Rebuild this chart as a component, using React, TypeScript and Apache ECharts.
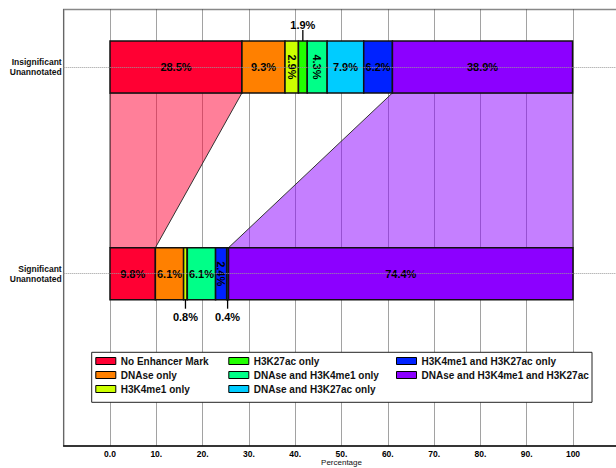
import React, { useEffect, useRef } from "react";
import * as echarts from "echarts";

// ---- data ----
const categories = ["Significant\nUnannotated", "Insignificant\nUnannotated"];
const marks = [
  "No Enhancer Mark",
  "DNAse only",
  "H3K4me1 only",
  "H3K27ac only",
  "DNAse and H3K4me1 only",
  "DNAse and H3K27ac only",
  "H3K4me1 and H3K27ac only",
  "DNAse and H3K4me1 and H3K27ac",
];
const significantValues = [9.8, 6.1, 0.8, 0, 6.1, 0.4, 2.4, 74.4];
const insignificantValues = [28.5, 9.3, 2.9, 1.9, 4.3, 7.9, 6.2, 38.9];
// stacking order of segments (as drawn) for each bar
const significantOrder = [0, 1, 2, 3, 4, 6, 5, 7];
const insignificantOrder = [0, 1, 2, 3, 4, 5, 6, 7];
const tickLabels = ["0.0", "10.", "20.", "30.", "40.", "50.", "60.", "70.", "80.", "90.", "100"];
const connectedMarks = [0, 7];

// ---- styling / layout ----
const colors = ["#FF0033", "#FF8000", "#CCFF00", "#22FF00", "#00FF88", "#00CCFF", "#0022FF", "#8C00FF"];
const ROW_Y = [15, 33];
const BAR_H = 52;
const FONT = '"Liberation Sans", Arial, sans-serif';

function stackSegments(values: number[], order: number[]) {
  const out: number[][] = new Array(values.length);
  let acc = 0;
  for (const idx of order) {
    out[idx] = [acc, acc + values[idx]];
    acc += values[idx];
  }
  return out;
}

const rows = [
  { values: significantValues, segs: stackSegments(significantValues, significantOrder) },
  { values: insignificantValues, segs: stackSegments(insignificantValues, insignificantOrder) },
];

function hexToRgba(hex: string, a: number) {
  const n = parseInt(hex.slice(1), 16);
  return `rgba(${(n >> 16) & 255},${(n >> 8) & 255},${n & 255},${a})`;
}

export default function App() {
  const ref = useRef<HTMLDivElement>(null);
  useEffect(() => {
    document.body.style.margin = "0";
    const chart = echarts.init(ref.current!, null, { renderer: "svg" });

    const barSeries = marks.map((name, i) => ({
      type: "custom",
      name,
      z: 3,
      itemStyle: { color: colors[i] },
      encode: { x: [0, 1], y: 2 },
      data: rows.map((r, ri) => [r.segs[i][0], r.segs[i][1], ri, r.values[i]]),
      renderItem: (params: any, api: any) => {
        const s = api.value(0);
        const e = api.value(1);
        const ri = api.value(2);
        const v = api.value(3);
        const yv = ROW_Y[ri];
        const p0 = api.coord([s, yv]);
        const p1 = api.coord([e, yv]);
        const top = p0[1] - BAR_H / 2;
        const children: any[] = [
          {
            type: "rect",
            shape: { x: p0[0], y: top, width: p1[0] - p0[0], height: BAR_H },
            style: { fill: colors[i], stroke: "#111", lineWidth: 1.5 },
          },
        ];
        const text = v.toFixed(1) + "%";
        const cx = (p0[0] + p1[0]) / 2;
        const ts = { text, fontSize: 11, fontWeight: "bold", fontFamily: FONT, fill: "#000", align: "center", verticalAlign: "middle" };
        if (v >= 5) {
          children.push({ type: "text", x: cx, y: p0[1], style: ts });
        } else if (v >= 2) {
          children.push({ type: "text", x: cx, y: p0[1], rotation: -Math.PI / 2, style: ts });
        } else if (v > 0) {
          if (ri === 1) {
            children.push({ type: "line", shape: { x1: cx, y1: top, x2: cx, y2: top - 11 }, style: { stroke: "#000", lineWidth: 1.3 } });
            children.push({ type: "text", x: cx, y: top - 16, style: ts });
          } else {
            const b = top + BAR_H;
            children.push({ type: "line", shape: { x1: cx, y1: b, x2: cx, y2: b + 9 }, style: { stroke: "#000", lineWidth: 1.3 } });
            children.push({ type: "text", x: cx, y: b + 17, style: ts });
          }
        }
        return { type: "group", children };
      },
    }));

    const connectorSeries = {
      type: "custom",
      name: "connectors",
      z: 1,
      silent: true,
      encode: { x: [0, 1], y: 4 },
      data: connectedMarks.map((m) => [
        rows[1].segs[m][0],
        rows[1].segs[m][1],
        rows[0].segs[m][0],
        rows[0].segs[m][1],
        m,
      ]),
      renderItem: (params: any, api: any) => {
        const m = api.value(4);
        const yt = api.coord([0, ROW_Y[1]])[1] + BAR_H / 2;
        const yb = api.coord([0, ROW_Y[0]])[1] - BAR_H / 2;
        const x = (v: number) => api.coord([v, ROW_Y[0]])[0];
        return {
          type: "polygon",
          shape: {
            points: [
              [x(api.value(0)), yt],
              [x(api.value(1)), yt],
              [x(api.value(3)), yb],
              [x(api.value(2)), yb],
            ],
          },
          style: { fill: hexToRgba(colors[m], 0.5), stroke: "#333", lineWidth: 1 },
        };
      },
      markLine: {
        silent: true,
        symbol: "none",
        label: { show: false },
        lineStyle: { type: "dotted", color: "#999", width: 1 },
        data: ROW_Y.map((y) => ({ yAxis: y })),
      },
    };

    const legendCols = [marks.slice(0, 3), marks.slice(3, 6), marks.slice(6)];
    const legendLefts = [95.3, 228.3, 396];

    chart.setOption({
      animation: false,
      grid: {
        left: 63.7,
        top: 9.5,
        width: 555.6,
        bottom: 22,
        show: true,
        borderColor: "#888",
        borderWidth: 1.5,
        containLabel: false,
        outerBoundsMode: "none",
      },
      xAxis: {
        type: "value",
        min: -10,
        max: 110,
        interval: 10,
        name: "Percentage",
        nameLocation: "middle",
        nameGap: 12,
        nameMoveOverlap: false,
        nameTextStyle: { fontSize: 8, color: "#111", fontFamily: FONT, verticalAlign: "top" },
        axisLine: { show: true, lineStyle: { color: "#111", width: 1.5 } },
        axisTick: { show: false },
        axisLabel: {
          margin: 3,
          fontSize: 8.5,
          fontWeight: "bold",
          color: "#000",
          fontFamily: FONT,
          formatter: (v: number) => (v >= 0 && v <= 100 ? tickLabels[Math.round(v / 10)] : ""),
        },
        splitLine: { show: true, lineStyle: { type: "dotted", color: "#444", width: 1 } },
      },
      yAxis: {
        type: "value",
        min: 0,
        max: 38,
        interval: 3,
        axisLine: { show: false },
        axisTick: { show: false },
        splitLine: { show: false },
        axisLabel: {
          margin: 2,
          fontSize: 8.5,
          lineHeight: 10,
          fontWeight: "bold",
          color: "#111",
          fontFamily: FONT,
          formatter: (v: number) => {
            const i = ROW_Y.indexOf(Math.round(v));
            return i >= 0 ? categories[i] : "";
          },
        },
      },
      legend: legendCols.map((data, k) => ({
        data,
        orient: "vertical",
        left: legendLefts[k],
        top: 356,
        padding: 0,
        itemGap: 4,
        itemWidth: 20,
        itemHeight: 7,
        icon: "rect",
        z: 6,
        selectedMode: false,
        itemStyle: { borderColor: "#000", borderWidth: 1 },
        textStyle: { fontSize: 10, fontWeight: "bold", color: "#111", fontFamily: FONT },
      })),
      graphic: [
        {
          type: "rect",
          z: 5,
          shape: { x: 91.7, y: 352.3, width: 500.3, height: 50 },
          style: { fill: "#fff", stroke: "#222", lineWidth: 1 },
        },
      ],
      series: [connectorSeries, ...barSeries],
    });
    return () => chart.dispose();
  }, []);
  return <div ref={ref} style={{ position: "absolute", left: 0, top: 0, width: 616, height: 468 }} />;
}
